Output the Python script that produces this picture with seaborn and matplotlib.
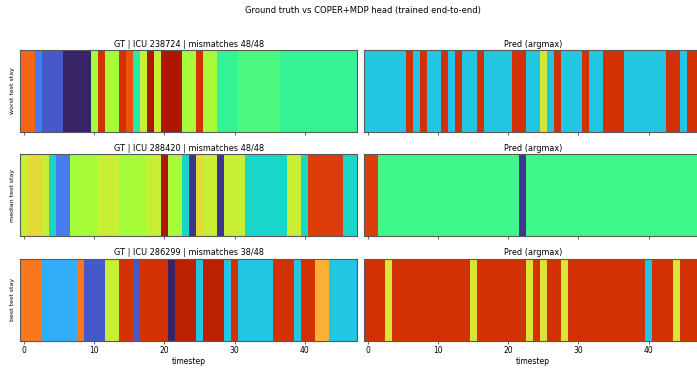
import numpy as np
import matplotlib
matplotlib.use("Agg")
import matplotlib.pyplot as plt
import seaborn as sns

# class ids per timestep (48 steps), coloured with turbo over 0..79
n_classes = 80

gt_worst = [62, 62, 12, 8, 8, 8, 2, 2, 2, 2, 40, 69, 40, 40, 69, 64, 28, 44, 74, 44,
            74, 74, 74, 40, 40, 69, 40, 40, 30, 30, 30, 32, 32, 32, 32, 32, 32, 30, 30, 30,
            30, 30, 30, 30, 30, 30, 30, 30]
pred_worst = [21, 21, 21, 21, 21, 21, 69, 21, 69, 21, 21, 69, 21, 69, 21, 21, 69, 21, 21, 21,
              21, 69, 69, 21, 21, 46, 21, 69, 21, 21, 21, 69, 21, 21, 69, 69, 69, 21, 21, 21,
              21, 21, 21, 69, 69, 21, 69, 69]

gt_median = [44, 48, 48, 44, 24, 12, 12, 40, 40, 40, 40, 44, 44, 44, 40, 40, 40, 40, 44, 44,
             74, 40, 40, 24, 4, 48, 44, 44, 4, 44, 44, 44, 24, 24, 24, 24, 24, 24, 44, 44,
             24, 67, 67, 67, 67, 67, 24, 24]
pred_median = [67, 67] + [31] * 20 + [4] + [31] * 25

gt_best = [60, 60, 60, 18, 18, 18, 18, 18, 60, 8, 8, 8, 44, 44, 69, 69, 8, 69, 69, 69,
           69, 2, 72, 72, 72, 21, 72, 72, 72, 21, 69, 21, 21, 21, 21, 21, 69, 69, 69, 21,
           69, 69, 54, 54, 21, 21, 21, 21]
pred_best = [69, 69, 69, 46, 69, 69, 69, 69, 69, 69, 69, 69, 69, 69, 69, 46, 69, 69, 69, 69,
             69, 69, 69, 46, 69, 46, 69, 69, 46, 69, 69, 69, 69, 69, 69, 69, 69, 69, 69, 69,
             21, 69, 69, 69, 46, 69, 69, 69]

row_names = ["worst test stay", "median test stay", "best test stay"]
gt_titles = ["GT | ICU 238724 | mismatches 48/48",
             "GT | ICU 288420 | mismatches 48/48",
             "GT | ICU 286299 | mismatches 38/48"]
pred_title = "Pred (argmax)"
tick_vals = [0, 10, 20, 30, 40]

rows = [(gt_worst, pred_worst), (gt_median, pred_median), (gt_best, pred_best)]

fig, axes = plt.subplots(3, 2, figsize=(6.97, 3.73), dpi=100)
fig.subplots_adjust(left=0.0294, right=1.006, top=0.866, bottom=0.0866,
                    wspace=0.02, hspace=0.27)

for r, (gt, pred) in enumerate(rows):
    for c, seq in enumerate([gt, pred]):
        ax = axes[r, c]
        sns.heatmap(np.array([seq]), ax=ax, cmap="turbo", vmin=0, vmax=n_classes - 1,
                    cbar=False, xticklabels=False, yticklabels=False)
        for s in ax.spines.values():
            s.set_visible(True)
            s.set_color("0.35")
            s.set_linewidth(0.8)
        ax.set_yticks([])
        ax.set_xticks(np.array(tick_vals) + 0.5)
        ax.tick_params(axis="x", length=2.5, width=0.6, color="0.3", pad=1.5, labelsize=5.5)
        if r == 2:
            ax.set_xticklabels([str(v) for v in tick_vals])
            ax.set_xlabel("timestep", fontsize=5.5, labelpad=1.5)
        else:
            ax.set_xticklabels([])
            ax.set_xlabel("")
        ax.set_title(gt_titles[r] if c == 0 else pred_title, fontsize=5.9, pad=2.5)
        if c == 0:
            ax.set_ylabel(row_names[r], fontsize=4.5, labelpad=4)
        else:
            ax.set_ylabel("")

fig.suptitle("Ground truth vs COPER+MDP head (trained end-to-end)", fontsize=6.0,
             x=0.52, y=0.985)

plt.savefig("out.png", dpi=100)
